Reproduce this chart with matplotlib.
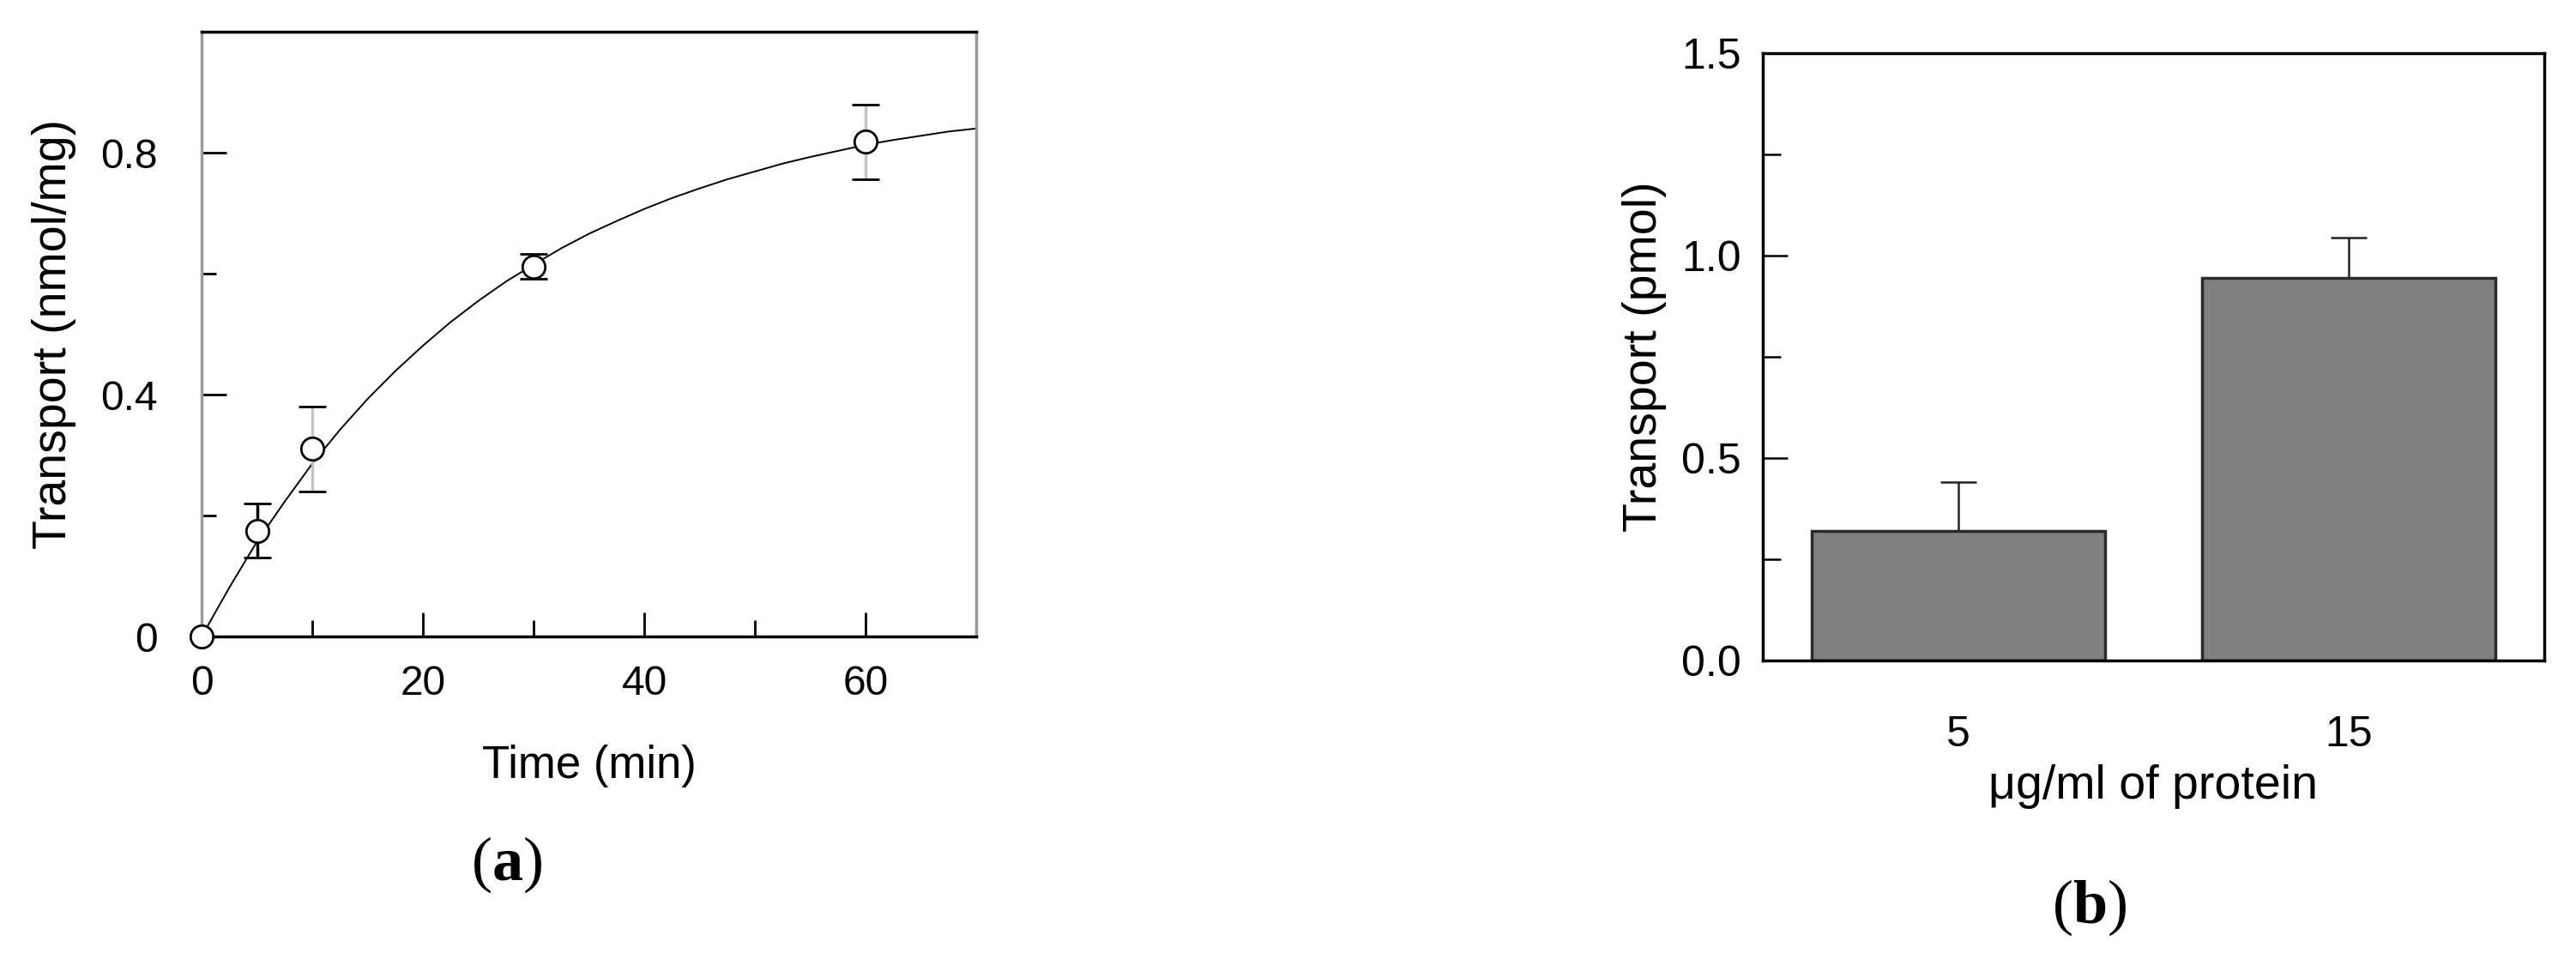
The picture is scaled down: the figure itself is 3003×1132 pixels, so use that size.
import matplotlib
matplotlib.use("Agg")
import matplotlib.pyplot as plt
from matplotlib.ticker import MultipleLocator

# panel (a) - time course
time_min = [0, 5, 10, 30, 60]
transport_nmol = [0.0, 0.175, 0.31, 0.612, 0.818]
transport_err = [0.0, 0.045, 0.07, 0.02, 0.062]

# fitted curve
curve_t = [0, 2.5, 5, 7.5, 10, 12.5, 15, 17.5, 20, 22.5, 25, 27.5, 30, 32.5, 35, 37.5, 40,
           42.5, 45, 47.5, 50, 52.5, 55, 57.5, 60, 62.5, 65, 67.5, 70]
curve_y = [0.0, 0.081, 0.157, 0.223, 0.286, 0.342, 0.393, 0.439, 0.481, 0.520, 0.555, 0.587,
           0.615, 0.642, 0.666, 0.687, 0.707, 0.725, 0.741, 0.756, 0.769, 0.782, 0.793, 0.803,
           0.813, 0.821, 0.828, 0.835, 0.840]

# panel (b) - bars
protein_conc = ["5", "15"]
transport_pmol = [0.32, 0.945]
pmol_err = [0.12, 0.10]

plt.rcParams['font.family'] = ['Liberation Sans', 'DejaVu Sans']
plt.rcParams['mathtext.fontset'] = 'custom'
plt.rcParams['mathtext.rm'] = 'Liberation Serif'
plt.rcParams['mathtext.bf'] = 'Liberation Serif:bold'

LIGHT = '#c4c4c4'
SPINE_GREY = '#9a9a9a'


def timeCourse(fig):
    ax = fig.add_axes([0.0783, 0.3445, 0.3007, 0.6228])
    ax.plot(curve_t, curve_y, color='black', lw=1.4, zorder=2)
    line, caps, bars = ax.errorbar(time_min, transport_nmol, yerr=transport_err, fmt='none',
                                   ecolor='black', elinewidth=2.5, capsize=11.5, capthick=2,
                                   zorder=3)
    bars[0].set_colors(['black', 'black', LIGHT, 'black', LIGHT])
    ax.plot(time_min, transport_nmol, 'o', ms=19, mfc='white', mec='black', mew=2,
            zorder=4, clip_on=False)

    ax.set_xlim(0, 70)
    ax.set_ylim(0, 1.0)
    ax.xaxis.set_major_locator(MultipleLocator(20))
    ax.xaxis.set_minor_locator(MultipleLocator(10))
    ax.yaxis.set_major_locator(MultipleLocator(0.4))
    ax.yaxis.set_minor_locator(MultipleLocator(0.2))
    ax.set_yticks([0, 0.4, 0.8])
    ax.set_yticklabels(['0', '0.4', '0.8'])

    ax.tick_params(which='both', direction='in', width=2, colors='black', top=False, right=False)
    ax.tick_params(axis='y', which='major', length=21, pad=37, labelsize=34.5)
    ax.tick_params(axis='y', which='minor', length=12)
    ax.tick_params(axis='x', which='major', length=20, pad=24, labelsize=34.5)
    ax.tick_params(axis='x', which='minor', length=14)

    ax.yaxis.get_major_ticks()[1].tick1line.set_color(LIGHT)
    for t in ax.xaxis.get_minor_ticks():
        if abs(t.get_loc() - 10) < 0.1:
            t.tick1line.set_color(LIGHT)
    ax.xaxis.get_major_ticks()[3].tick1line.set_color(LIGHT)

    for side in ['left', 'right']:
        ax.spines[side].set_color(SPINE_GREY)
        ax.spines[side].set_linewidth(2.5)
    for side in ['top', 'bottom']:
        ax.spines[side].set_color('black')
        ax.spines[side].set_linewidth(2.5)

    ax.set_ylabel('Transport (nmol/mg)', fontsize=40)
    ax.yaxis.set_label_coords(-0.1905, 0.5)
    ax.yaxis.label.set_va('center')
    ax.set_xlabel('Time (min)', fontsize=38)
    ax.xaxis.set_label_coords(0.5, -0.214)
    ax.xaxis.label.set_va('center')


def barPanel(fig):
    ax = fig.add_axes([0.6843, 0.3198, 0.3034, 0.6254])
    pos = range(len(protein_conc))
    ax.bar(pos, transport_pmol, width=0.75, color='#808080', edgecolor='#2a2a2a', linewidth=2.5,
           zorder=2)
    ax.errorbar(pos, transport_pmol, yerr=[[0, 0], pmol_err], fmt='none', ecolor='#222222',
                elinewidth=1.8, capsize=15, capthick=1.8, zorder=1)

    ax.set_xlim(-0.5, 1.5)
    ax.set_ylim(0, 1.5)
    ax.set_xticks(list(pos))
    ax.set_xticklabels(protein_conc)
    ax.yaxis.set_major_locator(MultipleLocator(0.5))
    ax.yaxis.set_minor_locator(MultipleLocator(0.25))
    ax.set_yticks([0, 0.5, 1.0, 1.5])
    ax.set_yticklabels(['0.0', '0.5', '1.0', '1.5'])

    ax.tick_params(axis='x', length=0, pad=46, labelsize=36)
    ax.tick_params(axis='y', which='both', direction='in', width=1.8, right=False)
    ax.tick_params(axis='y', which='major', length=21, pad=18, labelsize=36)
    ax.tick_params(axis='y', which='minor', length=15)
    for t in ax.yaxis.get_minor_ticks():
        if abs(t.get_loc() - 0.75) < 0.01:
            t.tick1line.set_color(LIGHT)

    for side in ax.spines:
        ax.spines[side].set_color('black')
        ax.spines[side].set_linewidth(2.5)

    ax.set_ylabel('Transport (pmol)', fontsize=40)
    ax.yaxis.set_label_coords(-0.1515, 0.5)
    ax.yaxis.label.set_va('center')
    ax.set_xlabel('\u03bcg/ml of protein', fontsize=40)
    ax.xaxis.set_label_coords(0.4995, -0.2076)
    ax.xaxis.label.set_va('center')


if __name__ == '__main__':
    fig = plt.figure(figsize=(30.03, 11.32), dpi=100)
    timeCourse(fig)
    barPanel(fig)
    fig.text(0.1965, 0.1095, r'($\mathbf{a}$)', family='Liberation Serif', fontsize=52,
             ha='center', va='center')
    fig.text(0.811, 0.0654, r'($\mathbf{b}$)', family='Liberation Serif', fontsize=52,
             ha='center', va='center')
    fig.savefig('out.png', dpi=100)
